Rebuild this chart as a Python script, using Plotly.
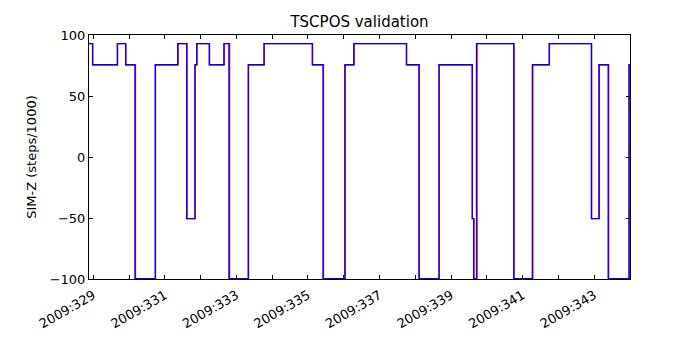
import plotly.graph_objects as go

# Step transition times (day of year 2009) and SIM-Z levels (steps/1000)
blue_times = [328.88, 328.98, 329.67, 329.905, 330.165, 330.73, 331.36, 331.61, 331.84, 331.89,
              332.24, 332.65, 332.79, 333.33, 333.77, 335.12, 335.42, 336.03, 336.28, 337.75,
              338.10, 338.66, 339.59, 339.63, 339.71, 340.75, 341.27, 341.74, 342.92, 343.13,
              343.39, 343.97, 344.0]
blue_vals = [92.904, 75.624, 92.904, 75.624, -99.612, 75.624, 92.904, -50.505, 75.624, 92.904,
             75.624, 92.904, -99.612, 75.624, 92.904, 75.624, -99.612, 75.624, 92.904, 75.624,
             -99.612, 75.624, -50.505, -99.612, 92.904, -99.612, 75.624, 92.904, -50.505, 75.624,
             -99.612, 75.624, 75.624]

red_times = [328.88, 328.985, 329.68, 329.91, 330.18, 330.74, 331.37, 331.62, 331.85, 331.90,
             332.25, 332.66, 332.81, 333.34, 333.78, 335.13, 335.435, 336.04, 336.29, 337.76,
             338.115, 338.67, 339.595, 339.64, 339.725, 340.76, 341.285, 341.75, 342.93, 343.145,
             343.405, 343.98, 344.0]
red_vals = blue_vals[:]

tick_days = list(range(329, 344))
tick_text = ["2009:%d" % d if d % 2 == 1 else "" for d in tick_days]

fig = go.Figure()
fig.add_trace(go.Scatter(x=red_times, y=red_vals, mode="lines", line_shape="hv",
                         line=dict(color="#ff0000", width=1.3), showlegend=False))
fig.add_trace(go.Scatter(x=blue_times, y=blue_vals, mode="lines", line_shape="hv",
                         line=dict(color="#0000ff", width=1.3), showlegend=False))

axis_common = dict(showline=True, linecolor="black", linewidth=1, mirror="ticks",
                   ticks="inside", ticklen=4, tickcolor="black", tickwidth=1,
                   showgrid=False, zeroline=False, automargin=False,
                   tickfont=dict(family="DejaVu Sans", size=13, color="black"))

# page body adds an 8px offset, so margins are compensated
fig.update_layout(
    width=700, height=350,
    margin=dict(l=81, r=78, t=27, b=79),
    paper_bgcolor="white", plot_bgcolor="white",
    title=dict(text="TSCPOS validation", x=(81 + 622) / 2 / 700, xanchor="center",
               y=1 - 14 / 350, yanchor="middle",
               font=dict(family="DejaVu Sans", size=15, color="black")),
    xaxis=dict(range=[328.88, 344.0], tickmode="array", tickvals=tick_days, ticktext=tick_text,
               tickangle=-30, ticklabelstandoff=3, **axis_common),
    yaxis=dict(range=[-100, 100], tickmode="array", tickvals=[-100, -50, 0, 50, 100],
               title=dict(text="SIM-Z (steps/1000)", standoff=10,
                          font=dict(family="DejaVu Sans", size=13, color="black")),
               **axis_common),
)

fig.write_html("out.html")
